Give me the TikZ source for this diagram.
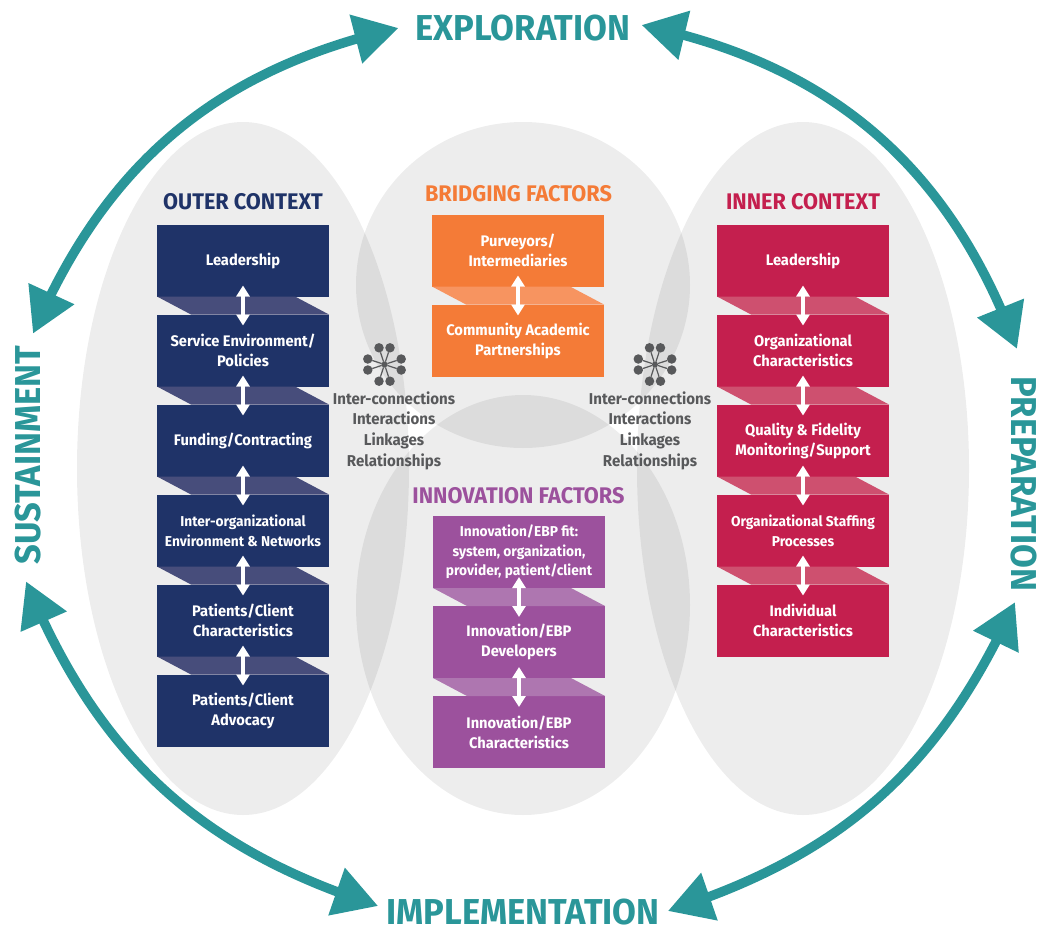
\documentclass[tikz,border=0pt]{standalone}
\usepackage{fontspec}
\setmainfont[FakeStretch=0.96]{Fira Sans}
\usetikzlibrary{
  arrows.meta,
  bending,
  positioning,
  shapes.geometric
}
\definecolor{navy}{HTML}{1F3368}
\definecolor{navyband}{HTML}{474D7B}
\definecolor{tangerine}{HTML}{F47B37}
\definecolor{tangerineband}{HTML}{F79460}
\definecolor{plum}{HTML}{9C519D}
\definecolor{plumband}{HTML}{AE76B0}
\definecolor{crimson}{HTML}{C41F4E}
\definecolor{crimsonband}{HTML}{CE506F}
\definecolor{teal}{HTML}{2A9699}
\definecolor{slate}{HTML}{58595B}
\tikzset{
  region/.style = {ellipse, fill=black, fill opacity=.07, inner sep=0pt, outer sep=0pt},
  box/.style = {rectangle, fill=#1, text=white, minimum width=172pt, minimum height=72pt,
      inner sep=0pt, outer sep=0pt, align=center, font=\bfseries\fontsize{15.3}{20}\selectfont},
  smallbox/.style = {box=#1, font=\bfseries\fontsize{14.3}{19.7}\selectfont},
  heading/.style = {text=#1, inner sep=0pt, font=\bfseries\fontsize{22.6}{26}\selectfont},
  phase/.style = {text=teal, inner sep=0pt, font=\bfseries\fontsize{36}{40}\selectfont},
  linktext/.style = {text=slate, inner sep=0pt, align=center, font=\bfseries\fontsize{15.7}{20.6}\selectfont},
  loopline/.style = {{Stealth[length=44pt, width=48pt, inset=0pt]}-{Stealth[length=44pt, width=48pt, inset=0pt]},
      teal, line width=9.5pt},
  updown/.style = {{Triangle[length=11pt, width=13pt]}-{Triangle[length=11pt, width=13pt]},
      white, line width=3.6pt, shorten >=-11pt, shorten <=-11pt},
  hubdot/.style = {circle, fill=slate, minimum size=#1, inner sep=0pt, outer sep=0pt},
  hub/.pic = {
    \node[hubdot=6pt] (-c) at (0,0) {};
    \foreach \i/\x/\y in {1/-5.5/-16.7, 2/5.5/-16.7, 3/-16.7/-5.5, 4/16.7/-5.5,
        5/-16.7/5.5, 6/16.7/5.5, 7/-5.5/16.7, 8/5.5/16.7} {
      \node[hubdot=9.5pt] (-d\i) at (\x,\y) {};
      \draw[slate, line width=1.2pt] (-c) -- (-d\i);
    }
  },
}
\newcommand{\bandlink}[3]{
  \fill[#3] (#1.south west) -- ([xshift=-34pt]#1.south east) -- (#2.north east)
    -- ([xshift=34pt]#2.north west) -- cycle;
  \draw[updown] (#1.south) -- (#2.north);
}

\begin{document}
\begin{tikzpicture}[x=1pt, y=-1pt, node distance=18pt]
  \useasboundingbox (0,0) rectangle (1041,926);

  \node[region, minimum width=332pt, minimum height=693pt] (outerbg) at (243,468.5) {};
  \node[region, minimum width=332pt, minimum height=693pt] (innerbg) at (803,468.5) {};
  \node[region, minimum width=334pt, minimum height=326pt] (bridgebg) at (523,285) {};
  \node[region, minimum width=334pt, minimum height=420pt] (innovbg) at (523,605) {};

  \node[phase] (explore) at (523,28) {EXPLORATION};
  \node[phase] (implement) at (523,912) {IMPLEMENTATION};
  \node[phase, rotate=90] (sustain) at (28,455) {SUSTAINMENT};
  \node[phase, rotate=-90] (prepare) at (1024,483.5) {PREPARATION};

  \draw[loopline] ([shift={(5,-12)}]sustain.east) to[bend left=27] ([shift={(-17,0)}]explore.west);
  \draw[loopline] ([shift={(11,-3)}]explore.east) to[bend left=29] ([shift={(-7,-27)}]prepare.west);
  \draw[loopline] ([shift={(-9,11)}]prepare.east) to[bend left=24] ([shift={(8,-1)}]implement.east);
  \draw[loopline] ([shift={(-8,-6)}]implement.west) to[bend left=25] ([shift={(-2,17)}]sustain.west);

  % outer context
  \node[heading=navy] (outerhead) at (243,202) {OUTER CONTEXT};
  \node[box=navy] (olead) at (243,260.5) {Leadership};
  \node[box=navy, below=of olead] (oserv) {Service Environment/\\Policies};
  \node[box=navy, below=of oserv] (ofund) {Funding/Contracting};
  \node[smallbox=navy, below=of ofund] (onet) {Inter-organizational\\Environment \& Networks};
  \node[box=navy, below=of onet] (ochar) {Patients/Client\\Characteristics};
  \node[box=navy, below=of ochar] (oadv) {Patients/Client\\Advocacy};
  \bandlink{olead}{oserv}{navyband}
  \bandlink{oserv}{ofund}{navyband}
  \bandlink{ofund}{onet}{navyband}
  \bandlink{onet}{ochar}{navyband}
  \bandlink{ochar}{oadv}{navyband}

  % bridging factors
  \node[heading=tangerine] (bridgehead) at (518.5,194) {BRIDGING FACTORS};
  \node[box=tangerine] (bpurv) at (518,250.5) {Purveyors/\\Intermediaries};
  \node[box=tangerine, below=of bpurv] (bcomm) {Community Academic\\Partnerships};
  \bandlink{bpurv}{bcomm}{tangerineband}

  % innovation factors
  \node[heading=plum] (innovhead) at (518.5,496) {INNOVATION FACTORS};
  \node[smallbox=plum] (ifit) at (519,552) {Innovation/EBP fit:\\system, organization,\\provider, patient/client};
  \node[box=plum, below=of ifit] (idev) {Innovation/EBP\\Developers};
  \node[box=plum, below=of idev] (ichar) {Innovation/EBP\\Characteristics};
  \bandlink{ifit}{idev}{plumband}
  \bandlink{idev}{ichar}{plumband}

  % inner context
  \node[heading=crimson] (innerhead) at (803,202) {INNER CONTEXT};
  \node[box=crimson] (clead) at (803,260.5) {Leadership};
  \node[box=crimson, below=of clead] (corg) {Organizational\\Characteristics};
  \node[box=crimson, below=of corg] (cqual) {Quality \& Fidelity\\Monitoring/Support};
  \node[smallbox=crimson, below=of cqual] (cstaff) {Organizational Staffing\\Processes};
  \node[box=crimson, below=of cstaff] (cind) {Individual\\Characteristics};
  \bandlink{clead}{corg}{crimsonband}
  \bandlink{corg}{cqual}{crimsonband}
  \bandlink{cqual}{cstaff}{crimsonband}
  \bandlink{cstaff}{cind}{crimsonband}

  % interconnections
  \pic (hubl) at (384.5,364.5) {hub};
  \pic (hubr) at (655,364.5) {hub};
  \node[linktext] (linkl) at (394,430.5) {Inter-connections\\Interactions\\Linkages\\Relationships};
  \node[linktext] (linkr) at (650,430.5) {Inter-connections\\Interactions\\Linkages\\Relationships};
\end{tikzpicture}
\end{document}
